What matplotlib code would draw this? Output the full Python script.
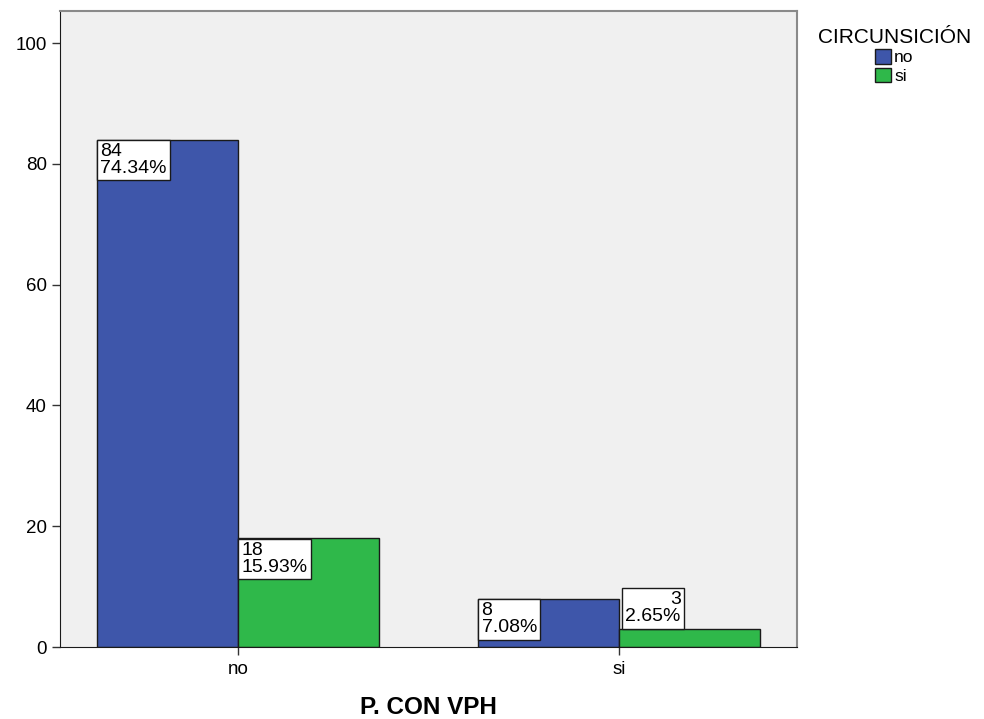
import numpy as np
import matplotlib.pyplot as plt
from matplotlib.patches import Patch

plt.rcParams['font.family'] = ['Liberation Sans', 'DejaVu Sans']

# Datos
categorias = ["no", "si"]
series = ["no", "si"]
conteo_no = [84, 8]       # CIRCUNSICIÓN = no
conteo_si = [18, 3]       # CIRCUNSICIÓN = si
pct_no = ["74.34%", "7.08%"]
pct_si = ["15.93%", "2.65%"]

AZUL = '#3e56aa'
VERDE = '#2fb84a'
FONDO = '#f0f0f0'

fig = plt.figure(figsize=(9.84, 7.19), dpi=100)
ax = fig.add_axes([0.061, 0.1001, 0.749, 0.8846])
ax.set_facecolor(FONDO)

x = np.arange(len(categorias))
w = 0.37
b1 = ax.bar(x - w/2, conteo_no, w, color=AZUL, edgecolor='#1a1a1a', linewidth=1)
b2 = ax.bar(x + w/2, conteo_si, w, color=VERDE, edgecolor='#1a1a1a', linewidth=1)

caja = dict(boxstyle='square,pad=0.16', facecolor='white', edgecolor='#1a1a1a', linewidth=1)

# Etiquetas dentro de las barras (arriba a la izquierda)
for rect, n, p in [(b1[0], conteo_no[0], pct_no[0]),
                   (b2[0], conteo_si[0], pct_si[0]),
                   (b1[1], conteo_no[1], pct_no[1])]:
    ax.annotate(f"{n}\n{p}", xy=(rect.get_x(), rect.get_height()),
                xytext=(2.5, -2.5), textcoords='offset points',
                ha='left', va='top', fontsize=14, linespacing=1.02,
                bbox=caja)

# Etiqueta encima de la barra pequeña
rect = b2[1]
ax.annotate(f"{conteo_si[1]}\n{pct_si[1]}", xy=(rect.get_x(), rect.get_height()),
            xytext=(4.5, 2.5), textcoords='offset points',
            ha='left', va='bottom', fontsize=14, linespacing=1.02,
            multialignment='right', bbox=caja)

ax.set_xlim(-0.467, 1.467)
ax.set_ylim(0, 105.3)
ax.set_yticks([0, 20, 40, 60, 80, 100])
ax.set_xticks(x)
ax.set_xticklabels(categorias)
ax.tick_params(axis='both', labelsize=13.5, length=6, width=1, color='#333333')
ax.tick_params(axis='x', pad=4)

for s in ['left', 'bottom']:
    ax.spines[s].set_color('#1a1a1a')
for s in ['top', 'right']:
    ax.spines[s].set_color('#8a8a8a')
    ax.spines[s].set_linewidth(1.5)

ax.set_xlabel("P. CON VPH", fontsize=17.5, fontweight='bold', labelpad=13)

handles = [Patch(facecolor=AZUL, edgecolor='#1a1a1a'),
           Patch(facecolor=VERDE, edgecolor='#1a1a1a')]
leg = fig.legend(handles, series, title="CIRCUNSICIÓN", loc='upper left',
                 bbox_to_anchor=(802/984, 1 - 12/719), frameon=False,
                 fontsize=12.5, title_fontsize=15, handlelength=0.9,
                 handleheight=0.9, handletextpad=0.2, labelspacing=0.15)

fig.savefig("out.png", dpi=100)
